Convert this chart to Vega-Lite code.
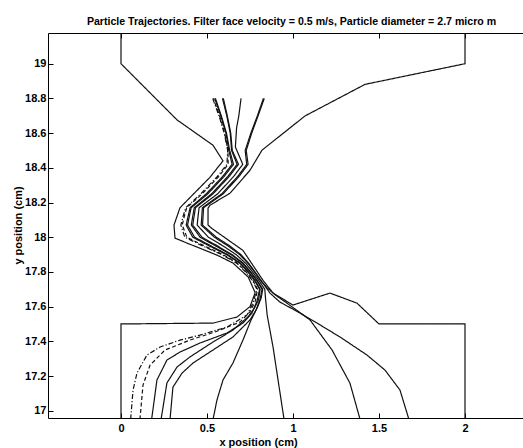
{
  "$schema": "https://vega.github.io/schema/vega-lite/v6.json",
  "width": 475,
  "height": 385,
  "autosize": {"type": "none"},
  "padding": {"left": 48, "top": 33, "right": 0, "bottom": 30},
  "background": "white",
  "title": {
    "text": "Particle Trajectories. Filter face velocity = 0.5 m/s, Particle diameter = 2.7 micro m",
    "font": "Liberation Sans",
    "fontSize": 10.6,
    "fontWeight": "bold",
    "color": "black",
    "anchor": "middle",
    "dx": 6,
    "dy": 11,
    "offset": 8,
    "baseline": "alphabetic"
  },
  "resolve": {"axis": {"x": "independent", "y": "shared"}},
  "config": {
    "view": {"stroke": null},
    "axis": {
      "grid": false,
      "domainColor": "black",
      "tickColor": "black",
      "labelColor": "black",
      "titleColor": "black",
      "labelFont": "Liberation Sans",
      "titleFont": "Liberation Sans",
      "labelFontSize": 11,
      "titleFontSize": 11,
      "labelFontWeight": "bold",
      "titleFontWeight": "bold",
      "labelFlush": false,
      "labelOverlap": false,
      "tickSize": -5
    }
  },
  "data": {
    "values": [
      {"id": "LW", "s": "solid", "x": 0, "y": 16.95},
      {"id": "LW", "s": "solid", "x": 0, "y": 17.5},
      {"id": "LW", "s": "solid", "x": 0.535, "y": 17.505},
      {"id": "LW", "s": "solid", "x": 0.674, "y": 17.54},
      {"id": "LW", "s": "solid", "x": 0.75, "y": 17.6},
      {"id": "LW", "s": "solid", "x": 0.78, "y": 17.68},
      {"id": "LW", "s": "solid", "x": 0.74, "y": 17.77},
      {"id": "LW", "s": "solid", "x": 0.651, "y": 17.851},
      {"id": "LW", "s": "solid", "x": 0.558, "y": 17.897},
      {"id": "LW", "s": "solid", "x": 0.384, "y": 17.966},
      {"id": "LW", "s": "solid", "x": 0.314, "y": 17.995},
      {"id": "LW", "s": "solid", "x": 0.308, "y": 18.07},
      {"id": "LW", "s": "solid", "x": 0.343, "y": 18.17},
      {"id": "LW", "s": "solid", "x": 0.517, "y": 18.345},
      {"id": "LW", "s": "solid", "x": 0.593, "y": 18.44},
      {"id": "LW", "s": "solid", "x": 0.535, "y": 18.53},
      {"id": "LW", "s": "solid", "x": 0.326, "y": 18.676},
      {"id": "LW", "s": "solid", "x": 0, "y": 19.0},
      {"id": "LW", "s": "solid", "x": 0, "y": 19.2},

      {"id": "RW", "s": "solid", "x": 2, "y": 16.95},
      {"id": "RW", "s": "solid", "x": 2, "y": 17.5},
      {"id": "RW", "s": "solid", "x": 1.5, "y": 17.5},
      {"id": "RW", "s": "solid", "x": 1.372, "y": 17.62},
      {"id": "RW", "s": "solid", "x": 1.215, "y": 17.678},
      {"id": "RW", "s": "solid", "x": 1.0, "y": 17.609},
      {"id": "RW", "s": "solid", "x": 0.884, "y": 17.678},
      {"id": "RW", "s": "solid", "x": 0.826, "y": 17.751},
      {"id": "RW", "s": "solid", "x": 0.709, "y": 17.924},
      {"id": "RW", "s": "solid", "x": 0.529, "y": 18.05},
      {"id": "RW", "s": "solid", "x": 0.506, "y": 18.07},
      {"id": "RW", "s": "solid", "x": 0.506, "y": 18.167},
      {"id": "RW", "s": "solid", "x": 0.517, "y": 18.184},
      {"id": "RW", "s": "solid", "x": 0.634, "y": 18.254},
      {"id": "RW", "s": "solid", "x": 0.75, "y": 18.386},
      {"id": "RW", "s": "solid", "x": 0.82, "y": 18.502},
      {"id": "RW", "s": "solid", "x": 1.07, "y": 18.699},
      {"id": "RW", "s": "solid", "x": 1.419, "y": 18.881},
      {"id": "RW", "s": "solid", "x": 2, "y": 19.0},
      {"id": "RW", "s": "solid", "x": 2, "y": 19.2},

      {"id": "T1", "s": "dashdot", "x": 0.056, "y": 16.95},
      {"id": "T1", "s": "dashdot", "x": 0.07, "y": 17.119},
      {"id": "T1", "s": "dashdot", "x": 0.093, "y": 17.217},
      {"id": "T1", "s": "dashdot", "x": 0.151, "y": 17.321},
      {"id": "T1", "s": "dashdot", "x": 0.227, "y": 17.367},
      {"id": "T1", "s": "dashdot", "x": 0.343, "y": 17.407},
      {"id": "T1", "s": "dashdot", "x": 0.459, "y": 17.436},
      {"id": "T1", "s": "dashdot", "x": 0.616, "y": 17.482},
      {"id": "T1", "s": "dashdot", "x": 0.733, "y": 17.552},
      {"id": "T1", "s": "dashdot", "x": 0.767, "y": 17.62},
      {"id": "T1", "s": "dashdot", "x": 0.79, "y": 17.7},
      {"id": "T1", "s": "dashdot", "x": 0.765, "y": 17.75},
      {"id": "T1", "s": "dashdot", "x": 0.724, "y": 17.8},
      {"id": "T1", "s": "dashdot", "x": 0.673, "y": 17.85},
      {"id": "T1", "s": "dashdot", "x": 0.585, "y": 17.9},
      {"id": "T1", "s": "dashdot", "x": 0.474, "y": 17.95},
      {"id": "T1", "s": "dashdot", "x": 0.371, "y": 18.0},
      {"id": "T1", "s": "dashdot", "x": 0.348, "y": 18.07},
      {"id": "T1", "s": "dashdot", "x": 0.361, "y": 18.12},
      {"id": "T1", "s": "dashdot", "x": 0.376, "y": 18.17},
      {"id": "T1", "s": "dashdot", "x": 0.464, "y": 18.25},
      {"id": "T1", "s": "dashdot", "x": 0.56, "y": 18.35},
      {"id": "T1", "s": "dashdot", "x": 0.616, "y": 18.42},
      {"id": "T1", "s": "dashdot", "x": 0.62, "y": 18.5},
      {"id": "T1", "s": "dashdot", "x": 0.6, "y": 18.6},
      {"id": "T1", "s": "dashdot", "x": 0.57, "y": 18.7},
      {"id": "T1", "s": "dashdot", "x": 0.533, "y": 18.8},

      {"id": "T2", "s": "dash", "x": 0.11, "y": 16.95},
      {"id": "T2", "s": "dash", "x": 0.128, "y": 17.148},
      {"id": "T2", "s": "dash", "x": 0.169, "y": 17.263},
      {"id": "T2", "s": "dash", "x": 0.256, "y": 17.35},
      {"id": "T2", "s": "dash", "x": 0.401, "y": 17.407},
      {"id": "T2", "s": "dash", "x": 0.547, "y": 17.454},
      {"id": "T2", "s": "dash", "x": 0.692, "y": 17.511},
      {"id": "T2", "s": "dash", "x": 0.75, "y": 17.57},
      {"id": "T2", "s": "dash", "x": 0.78, "y": 17.63},
      {"id": "T2", "s": "dash", "x": 0.794, "y": 17.7},
      {"id": "T2", "s": "dash", "x": 0.768, "y": 17.75},
      {"id": "T2", "s": "dash", "x": 0.728, "y": 17.8},
      {"id": "T2", "s": "dash", "x": 0.678, "y": 17.85},
      {"id": "T2", "s": "dash", "x": 0.592, "y": 17.9},
      {"id": "T2", "s": "dash", "x": 0.484, "y": 17.95},
      {"id": "T2", "s": "dash", "x": 0.383, "y": 18.0},
      {"id": "T2", "s": "dash", "x": 0.356, "y": 18.07},
      {"id": "T2", "s": "dash", "x": 0.368, "y": 18.12},
      {"id": "T2", "s": "dash", "x": 0.382, "y": 18.17},
      {"id": "T2", "s": "dash", "x": 0.472, "y": 18.25},
      {"id": "T2", "s": "dash", "x": 0.568, "y": 18.35},
      {"id": "T2", "s": "dash", "x": 0.623, "y": 18.42},
      {"id": "T2", "s": "dash", "x": 0.622, "y": 18.5},
      {"id": "T2", "s": "dash", "x": 0.603, "y": 18.6},
      {"id": "T2", "s": "dash", "x": 0.573, "y": 18.7},
      {"id": "T2", "s": "dash", "x": 0.537, "y": 18.8},

      {"id": "T3", "s": "solid", "x": 0.178, "y": 16.95},
      {"id": "T3", "s": "solid", "x": 0.209, "y": 17.177},
      {"id": "T3", "s": "solid", "x": 0.267, "y": 17.292},
      {"id": "T3", "s": "solid", "x": 0.343, "y": 17.338},
      {"id": "T3", "s": "solid", "x": 0.459, "y": 17.39},
      {"id": "T3", "s": "solid", "x": 0.616, "y": 17.448},
      {"id": "T3", "s": "solid", "x": 0.709, "y": 17.505},
      {"id": "T3", "s": "solid", "x": 0.76, "y": 17.56},
      {"id": "T3", "s": "solid", "x": 0.79, "y": 17.63},
      {"id": "T3", "s": "solid", "x": 0.806, "y": 17.7},
      {"id": "T3", "s": "solid", "x": 0.777, "y": 17.75},
      {"id": "T3", "s": "solid", "x": 0.738, "y": 17.8},
      {"id": "T3", "s": "solid", "x": 0.691, "y": 17.85},
      {"id": "T3", "s": "solid", "x": 0.613, "y": 17.9},
      {"id": "T3", "s": "solid", "x": 0.513, "y": 17.95},
      {"id": "T3", "s": "solid", "x": 0.417, "y": 18.0},
      {"id": "T3", "s": "solid", "x": 0.379, "y": 18.07},
      {"id": "T3", "s": "solid", "x": 0.39, "y": 18.12},
      {"id": "T3", "s": "solid", "x": 0.402, "y": 18.17},
      {"id": "T3", "s": "solid", "x": 0.496, "y": 18.25},
      {"id": "T3", "s": "solid", "x": 0.591, "y": 18.35},
      {"id": "T3", "s": "solid", "x": 0.646, "y": 18.42},
      {"id": "T3", "s": "solid", "x": 0.627, "y": 18.5},
      {"id": "T3", "s": "solid", "x": 0.61, "y": 18.6},
      {"id": "T3", "s": "solid", "x": 0.58, "y": 18.7},
      {"id": "T3", "s": "solid", "x": 0.545, "y": 18.8},

      {"id": "T4", "s": "solid", "x": 0.233, "y": 16.95},
      {"id": "T4", "s": "solid", "x": 0.267, "y": 17.16},
      {"id": "T4", "s": "solid", "x": 0.326, "y": 17.252},
      {"id": "T4", "s": "solid", "x": 0.401, "y": 17.31},
      {"id": "T4", "s": "solid", "x": 0.535, "y": 17.396},
      {"id": "T4", "s": "solid", "x": 0.651, "y": 17.465},
      {"id": "T4", "s": "solid", "x": 0.738, "y": 17.54},
      {"id": "T4", "s": "solid", "x": 0.775, "y": 17.59},
      {"id": "T4", "s": "solid", "x": 0.8, "y": 17.64},
      {"id": "T4", "s": "solid", "x": 0.809, "y": 17.7},
      {"id": "T4", "s": "solid", "x": 0.78, "y": 17.75},
      {"id": "T4", "s": "solid", "x": 0.741, "y": 17.8},
      {"id": "T4", "s": "solid", "x": 0.695, "y": 17.85},
      {"id": "T4", "s": "solid", "x": 0.62, "y": 17.9},
      {"id": "T4", "s": "solid", "x": 0.523, "y": 17.95},
      {"id": "T4", "s": "solid", "x": 0.428, "y": 18.0},
      {"id": "T4", "s": "solid", "x": 0.387, "y": 18.07},
      {"id": "T4", "s": "solid", "x": 0.397, "y": 18.12},
      {"id": "T4", "s": "solid", "x": 0.408, "y": 18.17},
      {"id": "T4", "s": "solid", "x": 0.505, "y": 18.25},
      {"id": "T4", "s": "solid", "x": 0.599, "y": 18.35},
      {"id": "T4", "s": "solid", "x": 0.654, "y": 18.42},
      {"id": "T4", "s": "solid", "x": 0.632, "y": 18.5},
      {"id": "T4", "s": "solid", "x": 0.613, "y": 18.6},
      {"id": "T4", "s": "solid", "x": 0.583, "y": 18.7},
      {"id": "T4", "s": "solid", "x": 0.549, "y": 18.8},

      {"id": "T5", "s": "solid", "x": 0.285, "y": 16.95},
      {"id": "T5", "s": "solid", "x": 0.302, "y": 17.136},
      {"id": "T5", "s": "solid", "x": 0.355, "y": 17.217},
      {"id": "T5", "s": "solid", "x": 0.419, "y": 17.275},
      {"id": "T5", "s": "solid", "x": 0.535, "y": 17.35},
      {"id": "T5", "s": "solid", "x": 0.651, "y": 17.425},
      {"id": "T5", "s": "solid", "x": 0.75, "y": 17.523},
      {"id": "T5", "s": "solid", "x": 0.785, "y": 17.58},
      {"id": "T5", "s": "solid", "x": 0.808, "y": 17.64},
      {"id": "T5", "s": "solid", "x": 0.82, "y": 17.7},
      {"id": "T5", "s": "solid", "x": 0.789, "y": 17.75},
      {"id": "T5", "s": "solid", "x": 0.751, "y": 17.8},
      {"id": "T5", "s": "solid", "x": 0.707, "y": 17.85},
      {"id": "T5", "s": "solid", "x": 0.639, "y": 17.9},
      {"id": "T5", "s": "solid", "x": 0.55, "y": 17.95},
      {"id": "T5", "s": "solid", "x": 0.46, "y": 18.0},
      {"id": "T5", "s": "solid", "x": 0.409, "y": 18.07},
      {"id": "T5", "s": "solid", "x": 0.417, "y": 18.12},
      {"id": "T5", "s": "solid", "x": 0.426, "y": 18.17},
      {"id": "T5", "s": "solid", "x": 0.527, "y": 18.25},
      {"id": "T5", "s": "solid", "x": 0.621, "y": 18.35},
      {"id": "T5", "s": "solid", "x": 0.675, "y": 18.42},
      {"id": "T5", "s": "solid", "x": 0.643, "y": 18.5},
      {"id": "T5", "s": "solid", "x": 0.635, "y": 18.6},
      {"id": "T5", "s": "solid", "x": 0.615, "y": 18.7},
      {"id": "T5", "s": "solid", "x": 0.59, "y": 18.8},

      {"id": "T6", "s": "solid", "x": 0.535, "y": 16.95},
      {"id": "T6", "s": "solid", "x": 0.558, "y": 17.062},
      {"id": "T6", "s": "solid", "x": 0.593, "y": 17.177},
      {"id": "T6", "s": "solid", "x": 0.651, "y": 17.275},
      {"id": "T6", "s": "solid", "x": 0.709, "y": 17.407},
      {"id": "T6", "s": "solid", "x": 0.755, "y": 17.52},
      {"id": "T6", "s": "solid", "x": 0.795, "y": 17.6},
      {"id": "T6", "s": "solid", "x": 0.815, "y": 17.65},
      {"id": "T6", "s": "solid", "x": 0.824, "y": 17.7},
      {"id": "T6", "s": "solid", "x": 0.792, "y": 17.75},
      {"id": "T6", "s": "solid", "x": 0.754, "y": 17.8},
      {"id": "T6", "s": "solid", "x": 0.711, "y": 17.85},
      {"id": "T6", "s": "solid", "x": 0.646, "y": 17.9},
      {"id": "T6", "s": "solid", "x": 0.56, "y": 17.95},
      {"id": "T6", "s": "solid", "x": 0.471, "y": 18.0},
      {"id": "T6", "s": "solid", "x": 0.417, "y": 18.07},
      {"id": "T6", "s": "solid", "x": 0.425, "y": 18.12},
      {"id": "T6", "s": "solid", "x": 0.433, "y": 18.17},
      {"id": "T6", "s": "solid", "x": 0.535, "y": 18.25},
      {"id": "T6", "s": "solid", "x": 0.629, "y": 18.35},
      {"id": "T6", "s": "solid", "x": 0.683, "y": 18.42},
      {"id": "T6", "s": "solid", "x": 0.647, "y": 18.5},
      {"id": "T6", "s": "solid", "x": 0.638, "y": 18.6},
      {"id": "T6", "s": "solid", "x": 0.618, "y": 18.7},
      {"id": "T6", "s": "solid", "x": 0.595, "y": 18.8},

      {"id": "T7", "s": "solid", "x": 0.948, "y": 16.95},
      {"id": "T7", "s": "solid", "x": 0.884, "y": 17.367},
      {"id": "T7", "s": "solid", "x": 0.85, "y": 17.55},
      {"id": "T7", "s": "solid", "x": 0.84, "y": 17.65},
      {"id": "T7", "s": "solid", "x": 0.836, "y": 17.7},
      {"id": "T7", "s": "solid", "x": 0.802, "y": 17.75},
      {"id": "T7", "s": "solid", "x": 0.765, "y": 17.8},
      {"id": "T7", "s": "solid", "x": 0.725, "y": 17.85},
      {"id": "T7", "s": "solid", "x": 0.669, "y": 17.9},
      {"id": "T7", "s": "solid", "x": 0.593, "y": 17.95},
      {"id": "T7", "s": "solid", "x": 0.508, "y": 18.0},
      {"id": "T7", "s": "solid", "x": 0.443, "y": 18.07},
      {"id": "T7", "s": "solid", "x": 0.448, "y": 18.12},
      {"id": "T7", "s": "solid", "x": 0.454, "y": 18.17},
      {"id": "T7", "s": "solid", "x": 0.562, "y": 18.25},
      {"id": "T7", "s": "solid", "x": 0.655, "y": 18.35},
      {"id": "T7", "s": "solid", "x": 0.708, "y": 18.42},
      {"id": "T7", "s": "solid", "x": 0.665, "y": 18.52},
      {"id": "T7", "s": "solid", "x": 0.672, "y": 18.63},
      {"id": "T7", "s": "solid", "x": 0.685, "y": 18.7},
      {"id": "T7", "s": "solid", "x": 0.698, "y": 18.8},

      {"id": "T8", "s": "solid", "x": 1.39, "y": 16.95},
      {"id": "T8", "s": "solid", "x": 1.331, "y": 17.159},
      {"id": "T8", "s": "solid", "x": 1.227, "y": 17.35},
      {"id": "T8", "s": "solid", "x": 1.099, "y": 17.523},
      {"id": "T8", "s": "solid", "x": 0.965, "y": 17.62},
      {"id": "T8", "s": "solid", "x": 0.9, "y": 17.665},
      {"id": "T8", "s": "solid", "x": 0.848, "y": 17.71},
      {"id": "T8", "s": "solid", "x": 0.811, "y": 17.75},
      {"id": "T8", "s": "solid", "x": 0.776, "y": 17.8},
      {"id": "T8", "s": "solid", "x": 0.738, "y": 17.85},
      {"id": "T8", "s": "solid", "x": 0.69, "y": 17.9},
      {"id": "T8", "s": "solid", "x": 0.622, "y": 17.95},
      {"id": "T8", "s": "solid", "x": 0.543, "y": 18.0},
      {"id": "T8", "s": "solid", "x": 0.466, "y": 18.07},
      {"id": "T8", "s": "solid", "x": 0.47, "y": 18.12},
      {"id": "T8", "s": "solid", "x": 0.473, "y": 18.17},
      {"id": "T8", "s": "solid", "x": 0.586, "y": 18.25},
      {"id": "T8", "s": "solid", "x": 0.678, "y": 18.35},
      {"id": "T8", "s": "solid", "x": 0.731, "y": 18.42},
      {"id": "T8", "s": "solid", "x": 0.722, "y": 18.5},
      {"id": "T8", "s": "solid", "x": 0.755, "y": 18.6},
      {"id": "T8", "s": "solid", "x": 0.793, "y": 18.7},
      {"id": "T8", "s": "solid", "x": 0.828, "y": 18.8},

      {"id": "T9", "s": "solid", "x": 1.674, "y": 16.95},
      {"id": "T9", "s": "solid", "x": 1.622, "y": 17.119},
      {"id": "T9", "s": "solid", "x": 1.535, "y": 17.234},
      {"id": "T9", "s": "solid", "x": 1.43, "y": 17.321},
      {"id": "T9", "s": "solid", "x": 1.273, "y": 17.425},
      {"id": "T9", "s": "solid", "x": 1.14, "y": 17.505},
      {"id": "T9", "s": "solid", "x": 1.041, "y": 17.563},
      {"id": "T9", "s": "solid", "x": 0.924, "y": 17.626},
      {"id": "T9", "s": "solid", "x": 0.866, "y": 17.678},
      {"id": "T9", "s": "solid", "x": 0.826, "y": 17.735},
      {"id": "T9", "s": "solid", "x": 0.779, "y": 17.8},
      {"id": "T9", "s": "solid", "x": 0.742, "y": 17.85},
      {"id": "T9", "s": "solid", "x": 0.697, "y": 17.9},
      {"id": "T9", "s": "solid", "x": 0.632, "y": 17.95},
      {"id": "T9", "s": "solid", "x": 0.554, "y": 18.0},
      {"id": "T9", "s": "solid", "x": 0.474, "y": 18.07},
      {"id": "T9", "s": "solid", "x": 0.477, "y": 18.12},
      {"id": "T9", "s": "solid", "x": 0.48, "y": 18.17},
      {"id": "T9", "s": "solid", "x": 0.594, "y": 18.25},
      {"id": "T9", "s": "solid", "x": 0.686, "y": 18.35},
      {"id": "T9", "s": "solid", "x": 0.739, "y": 18.42},
      {"id": "T9", "s": "solid", "x": 0.728, "y": 18.5},
      {"id": "T9", "s": "solid", "x": 0.76, "y": 18.6},
      {"id": "T9", "s": "solid", "x": 0.797, "y": 18.7},
      {"id": "T9", "s": "solid", "x": 0.833, "y": 18.8}
    ]
  },
  "layer": [
    {
      "mark": {"type": "line", "clip": true, "color": "#111111", "strokeWidth": 1.2},
      "encoding": {
        "x": {
          "field": "x",
          "type": "quantitative",
          "scale": {"domain": [-0.4244, 2.3372], "nice": false, "zero": false},
          "axis": {
            "orient": "bottom",
            "values": [0, 0.5, 1, 1.5, 2],
            "format": "~g",
            "tickSize": -5,
            "labelPadding": 9.5,
            "labelOverlap": false,
            "title": "x position (cm)",
            "titleX": 210,
            "titleY": 27,
            "titleBaseline": "alphabetic",
            "titleAlign": "center"
          }
        },
        "y": {
          "field": "y",
          "type": "quantitative",
          "scale": {"domain": [16.958, 19.177], "nice": false, "zero": false},
          "axis": {
            "orient": "left",
            "values": [17, 17.2, 17.4, 17.6, 17.8, 18, 18.2, 18.4, 18.6, 18.8, 19],
            "format": "~g",
            "tickSize": -5,
            "labelPadding": 7,
            "labelOverlap": false,
            "title": "y position (cm)",
            "titleX": -30,
            "titleY": 192,
            "titleAngle": 270,
            "titleAlign": "center",
            "titleBaseline": "middle"
          }
        },
        "detail": {"field": "id"},
        "order": {"value": null},
        "strokeDash": {
          "field": "s",
          "type": "nominal",
          "scale": {"domain": ["solid", "dash", "dashdot"], "range": [[1, 0], [4, 2.5], [5, 2, 1.2, 2]]},
          "legend": null
        }
      }
    },
    {
      "mark": {"type": "point", "opacity": 0, "clip": true},
      "encoding": {
        "x": {
          "field": "x",
          "type": "quantitative",
          "scale": {"domain": [-0.4244, 2.3372], "nice": false, "zero": false},
          "axis": {
            "orient": "top",
            "values": [0, 0.5, 1, 1.5, 2],
            "tickSize": -5,
            "labels": false,
            "title": null
          }
        },
        "y": {
          "field": "y",
          "type": "quantitative",
          "scale": {"domain": [16.958, 19.177], "nice": false, "zero": false},
          "axis": {
            "orient": "left",
            "values": [17, 17.2, 17.4, 17.6, 17.8, 18, 18.2, 18.4, 18.6, 18.8, 19],
            "format": "~g",
            "tickSize": -5,
            "labelPadding": 7,
            "labelOverlap": false,
            "title": "y position (cm)",
            "titleX": -30,
            "titleY": 192,
            "titleAngle": 270,
            "titleAlign": "center",
            "titleBaseline": "middle"
          }
        }
      }
    }
  ]
}
